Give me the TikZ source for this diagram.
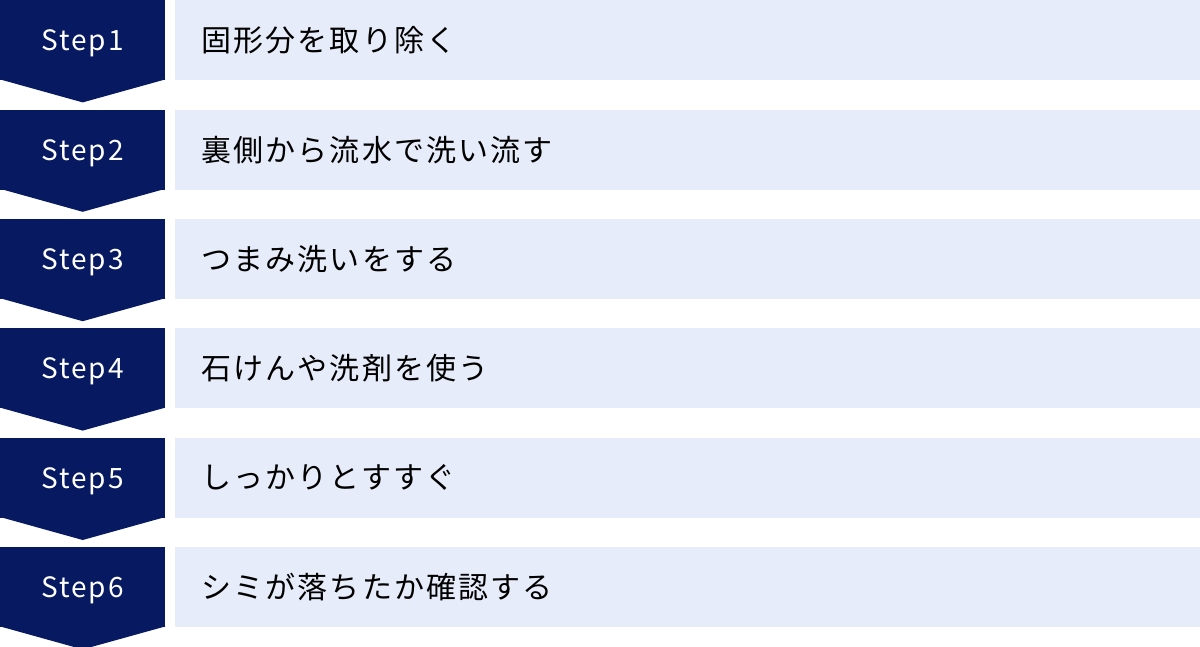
\documentclass[tikz,border=0pt]{standalone}
\usepackage{fontspec}
\setmainfont{Noto Sans CJK JP}
\newfontfamily\spacedfont[LetterSpace=7]{Noto Sans CJK JP}
\usetikzlibrary{positioning}
\definecolor{stepnavy}{HTML}{061961}
\definecolor{boxblue}{HTML}{E6ECF9}
\begin{document}
\begin{tikzpicture}[x=1pt,y=-1pt,node distance=29pt,
    step node/.style={rectangle,fill=stepnavy,text=white,minimum width=165pt,minimum height=80pt,inner sep=0pt,text height=21pt,text depth=0pt,font=\spacedfont\fontsize{28pt}{32pt}\selectfont},
    text node/.style={rectangle,fill=boxblue,text=black,minimum height=80pt,text width=972pt,inner xsep=27pt,inner ysep=0pt,align=left,font=\spacedfont\fontsize{30pt}{36pt}\selectfont},
    tip/.style={fill=stepnavy}]
    \useasboundingbox (0,0) rectangle (1200,647);

    \node[step node,anchor=north west] (1) at (0,0) {Step1};
    \node[step node] (2) [below=of 1] {Step2};
    \node[step node] (3) [below=of 2] {Step3};
    \node[step node] (4) [below=of 3] {Step4};
    \node[step node] (5) [below=of 4] {Step5};
    \node[step node] (6) [below=of 5] {Step6};

    \node[text node] (a) [right=9pt of 1] {固形分を取り除く};
    \node[text node] (b) [right=9pt of 2] {裏側から流水で洗い流す};
    \node[text node] (c) [right=9pt of 3] {つまみ洗いをする};
    \node[text node] (d) [right=9pt of 4] {石けんや洗剤を使う};
    \node[text node] (e) [right=9pt of 5] {しっかりとすすぐ};
    \node[text node] (f) [right=9pt of 6] {シミが落ちたか確認する};

    % arrow points under the steps
    \fill[tip] ([yshift=1pt]1.south west) -- ([yshift=1pt]1.south east) -- ([yshift=-22pt]1.south) -- cycle;
    \fill[tip] ([yshift=1pt]2.south west) -- ([yshift=1pt]2.south east) -- ([yshift=-22pt]2.south) -- cycle;
    \fill[tip] ([yshift=1pt]3.south west) -- ([yshift=1pt]3.south east) -- ([yshift=-22pt]3.south) -- cycle;
    \fill[tip] ([yshift=1pt]4.south west) -- ([yshift=1pt]4.south east) -- ([yshift=-22pt]4.south) -- cycle;
    \fill[tip] ([yshift=1pt]5.south west) -- ([yshift=1pt]5.south east) -- ([yshift=-22pt]5.south) -- cycle;
    \fill[tip] ([yshift=1pt]6.south west) -- ([yshift=1pt]6.south east) -- ([yshift=-22pt]6.south) -- cycle;
\end{tikzpicture}
\end{document}
